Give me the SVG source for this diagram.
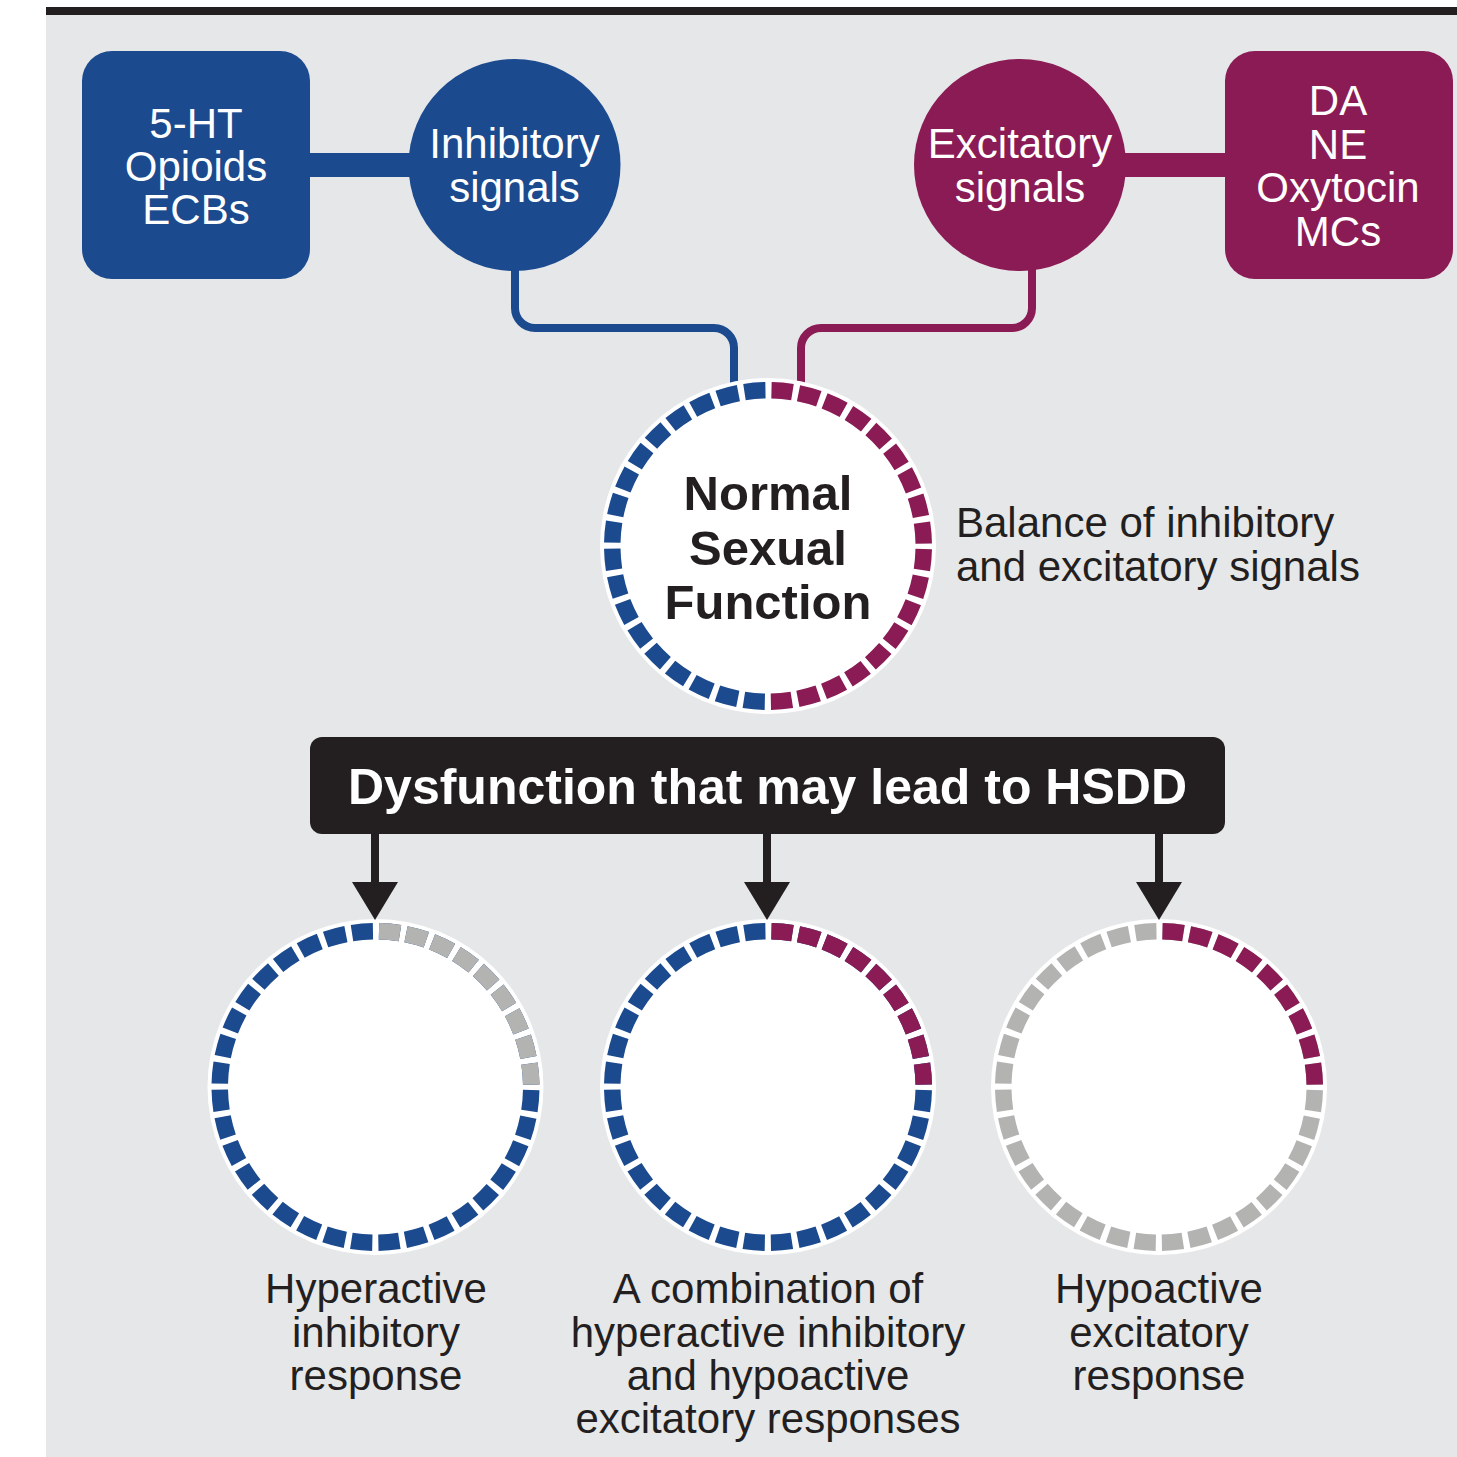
<svg xmlns="http://www.w3.org/2000/svg" width="1457" height="1457" viewBox="0 0 1457 1457">
<style>
  .t { font-family: "Liberation Sans", Arial, Helvetica, sans-serif; font-size: 42px; text-anchor: middle; }
  .w { fill: #ffffff; }
  .k { fill: #231f20; }
  .b { font-weight: bold; }
  .nsf { font-size: 49px; }
  .hd { font-size: 50px; }
  .st { text-anchor: start; }
  .blue { fill: #1b4a8f; }
  .mag { fill: #8a1b54; }
  .ring { fill: none; stroke-width: 16.5; stroke-dasharray: 21.07 6.12; stroke-dashoffset: -3.06; }
  .wc { fill: #ffffff; }
  .conn { fill: none; stroke-width: 8; }
</style>
<defs>
  <clipPath id="leftHalf"><rect x="0" y="0" width="768" height="1457"/></clipPath>
  <clipPath id="rightHalf"><rect x="768" y="0" width="689" height="1457"/></clipPath>
  <clipPath id="q1"><rect x="375.5" y="880" width="200" height="207"/></clipPath>
  <clipPath id="q2"><rect x="768" y="880" width="200" height="207"/></clipPath>
  <clipPath id="q3"><rect x="1159" y="880" width="200" height="207"/></clipPath>
</defs>

<rect x="46" y="15" width="1411" height="1442" fill="#e6e7e9"/>
<rect x="46" y="7" width="1411" height="8" fill="#231f20"/>

<g id="connectors">
  <rect x="305" y="153" width="110" height="24" fill="#1b4a8f"/>
  <rect x="1120" y="153" width="110" height="24" fill="#8a1b54"/>
  <path class="conn" stroke="#1b4a8f" d="M515,268 V308 A20,20 0 0 0 535,328 H714 A20,20 0 0 1 734,348 V390"/>
  <path class="conn" stroke="#8a1b54" d="M1032,268 V308 A20,20 0 0 1 1012,328 H821 A20,20 0 0 0 801,348 V390"/>
</g>

<g id="box-inhibitors">
  <rect x="82" y="51" width="228" height="228" rx="30" class="blue"/>
  <text class="t w" x="196" y="138">5-HT</text>
  <text class="t w" x="196" y="181">Opioids</text>
  <text class="t w" x="196" y="224">ECBs</text>
</g>

<g id="inhibitory-signals">
  <circle cx="514.5" cy="165" r="106" class="blue"/>
  <text class="t w" x="514.5" y="158">Inhibitory</text>
  <text class="t w" x="514.5" y="202">signals</text>
</g>

<g id="excitatory-signals">
  <circle cx="1020" cy="165" r="106" class="mag"/>
  <text class="t w" x="1020" y="158">Excitatory</text>
  <text class="t w" x="1020" y="202">signals</text>
</g>

<g id="box-excitators">
  <rect x="1225" y="51" width="228" height="228" rx="30" class="mag"/>
  <text class="t w" x="1338" y="115">DA</text>
  <text class="t w" x="1338" y="159">NE</text>
  <text class="t w" x="1338" y="202">Oxytocin</text>
  <text class="t w" x="1338" y="246">MCs</text>
</g>

<g id="normal-sexual-function">
  <circle cx="768" cy="546" r="168" class="wc"/>
  <circle cx="768" cy="546" r="155.75" class="ring" stroke="#1b4a8f" clip-path="url(#leftHalf)"/>
  <circle cx="768" cy="546" r="155.75" class="ring" stroke="#8a1b54" clip-path="url(#rightHalf)"/>
  <text class="t k b nsf" x="768" y="510">Normal</text>
  <text class="t k b nsf" x="768" y="565">Sexual</text>
  <text class="t k b nsf" x="768" y="619">Function</text>
</g>

<g id="balance-label">
  <text class="t k st" x="956" y="537">Balance of inhibitory</text>
  <text class="t k st" x="956" y="581">and excitatory signals</text>
</g>

<g id="dysfunction">
  <rect x="310" y="737" width="915" height="97" rx="12" fill="#231f20"/>
  <text class="t w b hd" x="767.5" y="804">Dysfunction that may lead to HSDD</text>
</g>

<g id="hyperactive-inhibitory">
  <circle cx="375.5" cy="1087" r="168" class="wc"/>
  <circle cx="375.5" cy="1087" r="155.75" class="ring" stroke="#1b4a8f"/>
  <circle cx="375.5" cy="1087" r="155.75" class="ring" stroke="#b3b3b1" clip-path="url(#q1)"/>
  <text class="t k" x="376" y="1303">Hyperactive</text>
  <text class="t k" x="376" y="1347">inhibitory</text>
  <text class="t k" x="376" y="1390">response</text>
</g>

<g id="combination">
  <circle cx="768" cy="1087" r="168" class="wc"/>
  <circle cx="768" cy="1087" r="155.75" class="ring" stroke="#1b4a8f"/>
  <circle cx="768" cy="1087" r="155.75" class="ring" stroke="#8a1b54" clip-path="url(#q2)"/>
  <text class="t k" x="768" y="1303">A combination of</text>
  <text class="t k" x="768" y="1347">hyperactive inhibitory</text>
  <text class="t k" x="768" y="1390">and hypoactive</text>
  <text class="t k" x="768" y="1433">excitatory responses</text>
</g>

<g id="hypoactive-excitatory">
  <circle cx="1159" cy="1087" r="168" class="wc"/>
  <circle cx="1159" cy="1087" r="155.75" class="ring" stroke="#b3b3b1"/>
  <circle cx="1159" cy="1087" r="155.75" class="ring" stroke="#8a1b54" clip-path="url(#q3)"/>
  <text class="t k" x="1159" y="1303">Hypoactive</text>
  <text class="t k" x="1159" y="1347">excitatory</text>
  <text class="t k" x="1159" y="1390">response</text>
</g>

<g id="arrows" fill="#231f20" stroke="none">
  <rect x="371" y="834" width="8" height="52"/>
  <polygon points="352,882 398,882 375,920"/>
  <rect x="763" y="834" width="8" height="52"/>
  <polygon points="744,882 790,882 767,920"/>
  <rect x="1155" y="834" width="8" height="52"/>
  <polygon points="1136,882 1182,882 1159,920"/>
</g>
</svg>
